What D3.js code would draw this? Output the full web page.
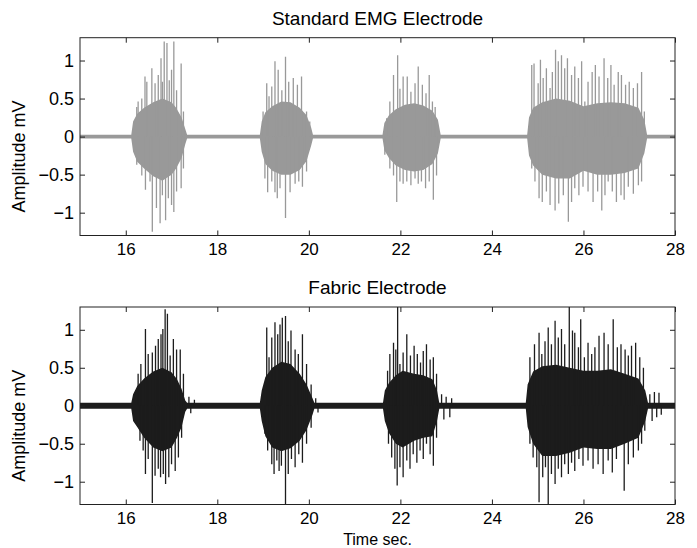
<!DOCTYPE html>
<html>
<head>
<meta charset="utf-8">
<script src="https://cdn.jsdelivr.net/npm/d3@7"></script>
<style>
  body { margin: 0; background: #fff; }
  text { font-family: "Liberation Sans", Arial, sans-serif; fill: #000; }
</style>
</head>
<body>
<div id="chart"></div>
<script>
const width = 697;
const height = 548;

// tick values
const xTicks = [16, 18, 20, 22, 24, 26, 28];
const yTicks = [-1, -0.5, 0, 0.5, 1];

// dense core of the signal: [time, upper, lower] in mV
const stdCore = [
  [15.0, .025, -.025], [16.12, .025, -.025], [16.16, .2, -.2], [16.25, .3, -.33], [16.4, .38, -.42],
  [16.6, .45, -.52], [16.8, .5, -.58], [17.0, .45, -.5], [17.1, .38, -.42], [17.22, .25, -.28],
  [17.3, .1, -.1], [17.34, .025, -.025],
  [18.93, .025, -.025], [18.97, .2, -.2], [19.05, .32, -.36], [19.2, .4, -.45], [19.4, .46, -.5],
  [19.6, .45, -.5], [19.8, .38, -.44], [19.95, .28, -.32], [20.05, .12, -.12], [20.09, .025, -.025],
  [21.61, .025, -.025], [21.65, .18, -.18], [21.75, .28, -.28], [21.9, .36, -.38], [22.1, .42, -.44],
  [22.3, .44, -.46], [22.5, .41, -.44], [22.7, .34, -.36], [22.82, .22, -.22], [22.88, .025, -.025],
  [24.77, .025, -.025], [24.81, .25, -.25], [24.9, .38, -.38], [25.1, .45, -.5], [25.4, .5, -.55],
  [25.7, .47, -.55], [26.0, .4, -.45], [26.3, .44, -.5], [26.6, .45, -.5], [26.9, .44, -.48],
  [27.2, .38, -.42], [27.33, .22, -.22], [27.39, .025, -.025], [28.0, .025, -.025]
];

// individual peaks: [time, value] in mV
const stdSpikes = [
  [16.24, .39], [16.27, .46], [16.35, .50], [16.42, .79], [16.46, .72], [16.57, .90], [16.64, .70],
  [16.71, .81], [16.77, 1.03], [16.80, .72], [16.84, 1.25], [16.90, 1.23], [16.95, .74], [17.00, .88],
  [17.05, 1.25], [17.11, .61], [17.21, .96], [17.26, .33],
  [16.24, -.37], [16.35, -.51], [16.43, -.70], [16.53, -.59], [16.58, -1.25], [16.67, -.94],
  [16.75, -1.14], [16.80, -.77], [16.87, -1.10], [16.93, -.81], [17.00, -.90], [17.05, -.99],
  [17.11, -.72], [17.21, -.68], [17.26, -.42],
  [19.00, .33], [19.08, .70], [19.13, .53], [19.19, .66], [19.26, .99], [19.33, .88], [19.41, .61],
  [19.49, 1.05], [19.56, .72], [19.66, .77], [19.75, .68], [19.84, .79], [19.95, .33], [20.02, .20],
  [19.04, -.55], [19.10, -.73], [19.19, -.59], [19.26, -.73], [19.31, -.81], [19.37, -.68],
  [19.49, -1.07], [19.59, -.73], [19.70, -.62], [19.78, -.59], [19.86, -.66], [19.95, -.46],
  [21.70, .24], [21.77, .46], [21.85, .81], [21.94, 1.07], [21.99, .63], [22.06, .79], [22.15, .79],
  [22.23, .59], [22.32, .70], [22.39, .92], [22.48, .68], [22.56, .57], [22.63, .81], [22.70, .46],
  [22.76, .39],
  [21.66, -.24], [21.77, -.42], [21.85, -.51], [21.92, -.86], [21.99, -.59], [22.06, -.62],
  [22.14, -.59], [22.23, -.64], [22.32, -.55], [22.39, -.62], [22.46, -.59], [22.55, -.68],
  [22.63, -.59], [22.72, -.83], [22.79, -.51],
  [24.87, .94], [24.92, .96], [25.01, .70], [25.06, 1.01], [25.12, .77], [25.19, .90], [25.27, .64],
  [25.32, .85], [25.39, 1.14], [25.45, .99], [25.52, 1.07], [25.59, .90], [25.65, 1.03], [25.74, .81],
  [25.81, .92], [25.89, .77], [25.96, .99], [26.03, .46], [26.10, .72], [26.19, .85], [26.26, .94],
  [26.34, .79], [26.45, 1.03], [26.53, .77], [26.60, .94], [26.67, .68], [26.76, .85], [26.83, .81],
  [26.92, .68], [27.00, .72], [27.09, .64], [27.18, .70], [27.27, .85], [27.33, .33],
  [24.87, -.42], [24.94, -.59], [25.03, -.81], [25.10, -.86], [25.19, -.72], [25.27, -.90],
  [25.38, -.97], [25.46, -.88], [25.56, -.77], [25.67, -1.12], [25.74, -.86], [25.81, -.68],
  [25.90, -.77], [25.99, -.66], [26.10, -.72], [26.21, -.86], [26.31, -.72], [26.40, -.97],
  [26.47, -.77], [26.54, -.59], [26.63, -.72], [26.72, -.86], [26.82, -.77], [26.89, -.83],
  [26.98, -.66], [27.09, -.75], [27.20, -.64], [27.27, -.59]
];

const fabricCore = [
  [15.0, .04, -.04], [16.12, .04, -.04], [16.16, .15, -.2], [16.25, .26, -.28], [16.4, .36, -.42],
  [16.6, .45, -.55], [16.8, .5, -.6], [17.0, .44, -.55], [17.12, .35, -.42], [17.22, .22, -.28],
  [17.3, .07, -.08], [17.34, .04, -.04],
  [18.93, .04, -.04], [18.97, .2, -.2], [19.05, .38, -.4], [19.2, .5, -.55], [19.4, .58, -.6],
  [19.6, .55, -.56], [19.8, .42, -.46], [19.95, .28, -.32], [20.08, .1, -.12], [20.12, .04, -.04],
  [21.62, .04, -.04], [21.66, .2, -.2], [21.75, .3, -.36], [21.9, .4, -.5], [22.05, .46, -.55],
  [22.3, .42, -.46], [22.5, .4, -.42], [22.7, .35, -.4], [22.8, .2, -.2], [22.85, .04, -.04],
  [24.74, .04, -.04], [24.78, .28, -.28], [24.9, .45, -.5], [25.1, .52, -.66], [25.4, .54, -.66],
  [25.7, .5, -.62], [26.0, .46, -.55], [26.3, .46, -.57], [26.6, .48, -.57], [26.9, .42, -.5],
  [27.2, .36, -.42], [27.35, .2, -.2], [27.41, .04, -.04], [28.0, .04, -.04]
];

const fabricSpikes = [
  [16.27, .42], [16.33, .55], [16.43, 1.01], [16.49, .68], [16.58, .70], [16.65, .79], [16.71, .88],
  [16.77, .94], [16.81, 1.01], [16.86, 1.27], [16.91, 1.21], [16.97, .66], [17.04, .88], [17.11, .74],
  [17.19, .74], [17.26, .42],
  [16.31, -.46], [16.38, -.59], [16.43, -.90], [16.49, -.70], [16.58, -1.28], [16.64, -.92],
  [16.71, -.83], [16.76, -.94], [16.82, -.90], [16.87, -1.03], [16.94, -.94], [17.00, -.77],
  [17.08, -.86], [17.15, -.68], [17.22, -.42],
  [17.38, .12], [17.42, -.1], [17.5, .08],
  [19.08, 1.03], [19.13, .64], [19.19, .90], [19.26, 1.10], [19.32, .94], [19.37, 1.07], [19.42, 1.16],
  [19.49, 1.18], [19.55, .85], [19.61, .99], [19.70, .74], [19.77, .68], [19.86, .94], [19.95, .55],
  [20.05, .28],
  [19.04, -.37], [19.10, -.59], [19.19, -.77], [19.24, -.90], [19.30, -.72], [19.35, -.86],
  [19.40, -.79], [19.49, -1.30], [19.55, -.90], [19.62, -.70], [19.70, -.81], [19.78, -.64],
  [19.86, -.75], [19.95, -.50], [20.05, -.29],
  [20.15, .1], [20.2, -.09],
  [21.72, .46], [21.77, .68], [21.85, .83], [21.90, .74], [21.94, 1.30], [21.99, .55], [22.06, .70],
  [22.14, .94], [22.22, .66], [22.30, .79], [22.37, .68], [22.44, .57], [22.50, .72], [22.57, .81],
  [22.65, .61], [22.72, .64], [22.79, .42],
  [21.74, -.50], [21.81, -.68], [21.88, -.83], [21.93, -1.05], [21.99, -.81], [22.06, -.94],
  [22.14, -.72], [22.21, -.83], [22.28, -.64], [22.36, -.75], [22.43, -.59], [22.50, -.70],
  [22.57, -.50], [22.65, -.64], [22.72, -.79], [22.79, -.42],
  [22.9, .15], [22.95, -.18], [23.0, .12], [23.08, -.15], [23.12, .1],
  [24.83, .64], [24.93, .81], [25.03, .96], [25.09, .68], [25.16, .85], [25.23, 1.03], [25.30, .81],
  [25.38, 1.12], [25.45, .90], [25.52, 1.01], [25.59, .81], [25.69, 1.30], [25.76, .99], [25.81, .96],
  [25.89, .77], [25.94, 1.14], [26.02, .64], [26.10, .83], [26.18, .68], [26.25, .77], [26.34, .92],
  [26.45, .96], [26.54, .81], [26.65, 1.14], [26.74, .77], [26.82, .81], [26.91, .74], [26.98, .66],
  [27.05, .79], [27.14, .83], [27.23, .64], [27.31, .50],
  [24.83, -.50], [24.90, -.68], [24.98, -.81], [25.03, -1.27], [25.11, -.94], [25.17, -.81],
  [25.23, -1.30], [25.30, -.90], [25.38, -1.03], [25.45, -.83], [25.52, -.94], [25.59, -.77],
  [25.67, -.90], [25.74, -.75], [25.81, -.86], [25.90, -.70], [25.99, -.79], [26.10, -.72],
  [26.21, -.83], [26.32, -.77], [26.43, -.90], [26.54, -.72], [26.63, -.88], [26.72, -.70],
  [26.89, -1.12], [26.98, -.77], [27.09, -.68], [27.20, -.59], [27.27, -.50], [27.34, -.33],
  [27.45, .15], [27.5, -.2], [27.55, .18], [27.6, -.15], [27.65, .17], [27.7, -.12]
];

const panels = [
  { title: "Standard EMG Electrode", core: stdCore, spikes: stdSpikes, color: "#999999", top: 37.7, bottom: 235.5, xlabel: false },
  { title: "Fabric Electrode", core: fabricCore, spikes: fabricSpikes, color: "#1c1c1c", top: 307, bottom: 504.5, xlabel: true }
];

const svg = d3.select("#chart")
    .append("svg")
    .attr("width", width)
    .attr("height", height);

const x = d3.scaleLinear()
    .domain([15, 28])
    .range([80, 675]);

panels.forEach((p, i) => {
    const y = d3.scaleLinear()
        .domain([-1.3, 1.3])
        .range([p.bottom, p.top]);

    const g = svg.append("g");

    const clipId = "clip" + i;
    g.append("clipPath").attr("id", clipId)
        .append("rect")
        .attr("x", x(15)).attr("y", p.top)
        .attr("width", x(28) - x(15)).attr("height", p.bottom - p.top);

    const plot = g.append("g").attr("clip-path", `url(#${clipId})`);

    // solid body of the signal
    const area = d3.area()
        .x(d => x(d[0]))
        .y0(d => y(d[2]))
        .y1(d => y(d[1]));

    plot.append("path")
        .datum(p.core)
        .attr("d", area)
        .attr("fill", p.color);

    // peaks
    plot.selectAll("line.spike")
        .data(p.spikes)
        .enter().append("line")
        .attr("class", "spike")
        .attr("x1", d => x(d[0]))
        .attr("x2", d => x(d[0]))
        .attr("y1", y(0))
        .attr("y2", d => y(d[1]))
        .attr("stroke", p.color)
        .attr("stroke-width", 1.3);

    // axes, ticks pointing inwards on all four sides
    const axB = d3.axisBottom(x).tickValues(xTicks).tickSizeInner(-5).tickSizeOuter(0).tickPadding(7);
    const axT = d3.axisTop(x).tickValues(xTicks).tickSizeInner(-5).tickSizeOuter(0).tickFormat("");
    const axL = d3.axisLeft(y).tickValues(yTicks).tickSizeInner(-5).tickSizeOuter(0).tickPadding(6)
        .tickFormat(d3.format("~g"));
    const axR = d3.axisRight(y).tickValues(yTicks).tickSizeInner(-5).tickSizeOuter(0).tickFormat("");

    const styleAxis = size => sel => {
        sel.select(".domain").remove();
        sel.selectAll(".tick line").attr("stroke", "#222");
        sel.selectAll(".tick text")
            .attr("font-size", size + "px")
            .attr("font-family", "'Liberation Sans', Arial, sans-serif")
            .attr("fill", "#000");
    };

    g.append("g").attr("transform", `translate(0,${p.bottom})`).call(axB).call(styleAxis(17));
    g.append("g").attr("transform", `translate(0,${p.top})`).call(axT).call(styleAxis(17));
    g.append("g").attr("transform", `translate(${x(15)},0)`).call(axL).call(styleAxis(18));
    g.append("g").attr("transform", `translate(${x(28)},0)`).call(axR).call(styleAxis(18));

    // frame
    g.append("rect")
        .attr("x", x(15)).attr("y", p.top)
        .attr("width", x(28) - x(15)).attr("height", p.bottom - p.top)
        .attr("fill", "none")
        .attr("stroke", "#222")
        .attr("stroke-width", 1);

    g.append("text")
        .attr("x", (x(15) + x(28)) / 2)
        .attr("y", p.top - 13)
        .attr("text-anchor", "middle")
        .attr("font-size", "19px")
        .text(p.title);

    g.append("text")
        .attr("transform", `translate(25,${(p.top + p.bottom) / 2 + 20}) rotate(-90)`)
        .attr("text-anchor", "middle")
        .attr("font-size", "18px")
        .text("Amplitude mV");

    if (p.xlabel) {
        g.append("text")
            .attr("x", (x(15) + x(28)) / 2)
            .attr("y", 544.5)
            .attr("text-anchor", "middle")
            .attr("font-size", "16px")
            .text("Time sec.");
    }
});
</script>
</body>
</html>
